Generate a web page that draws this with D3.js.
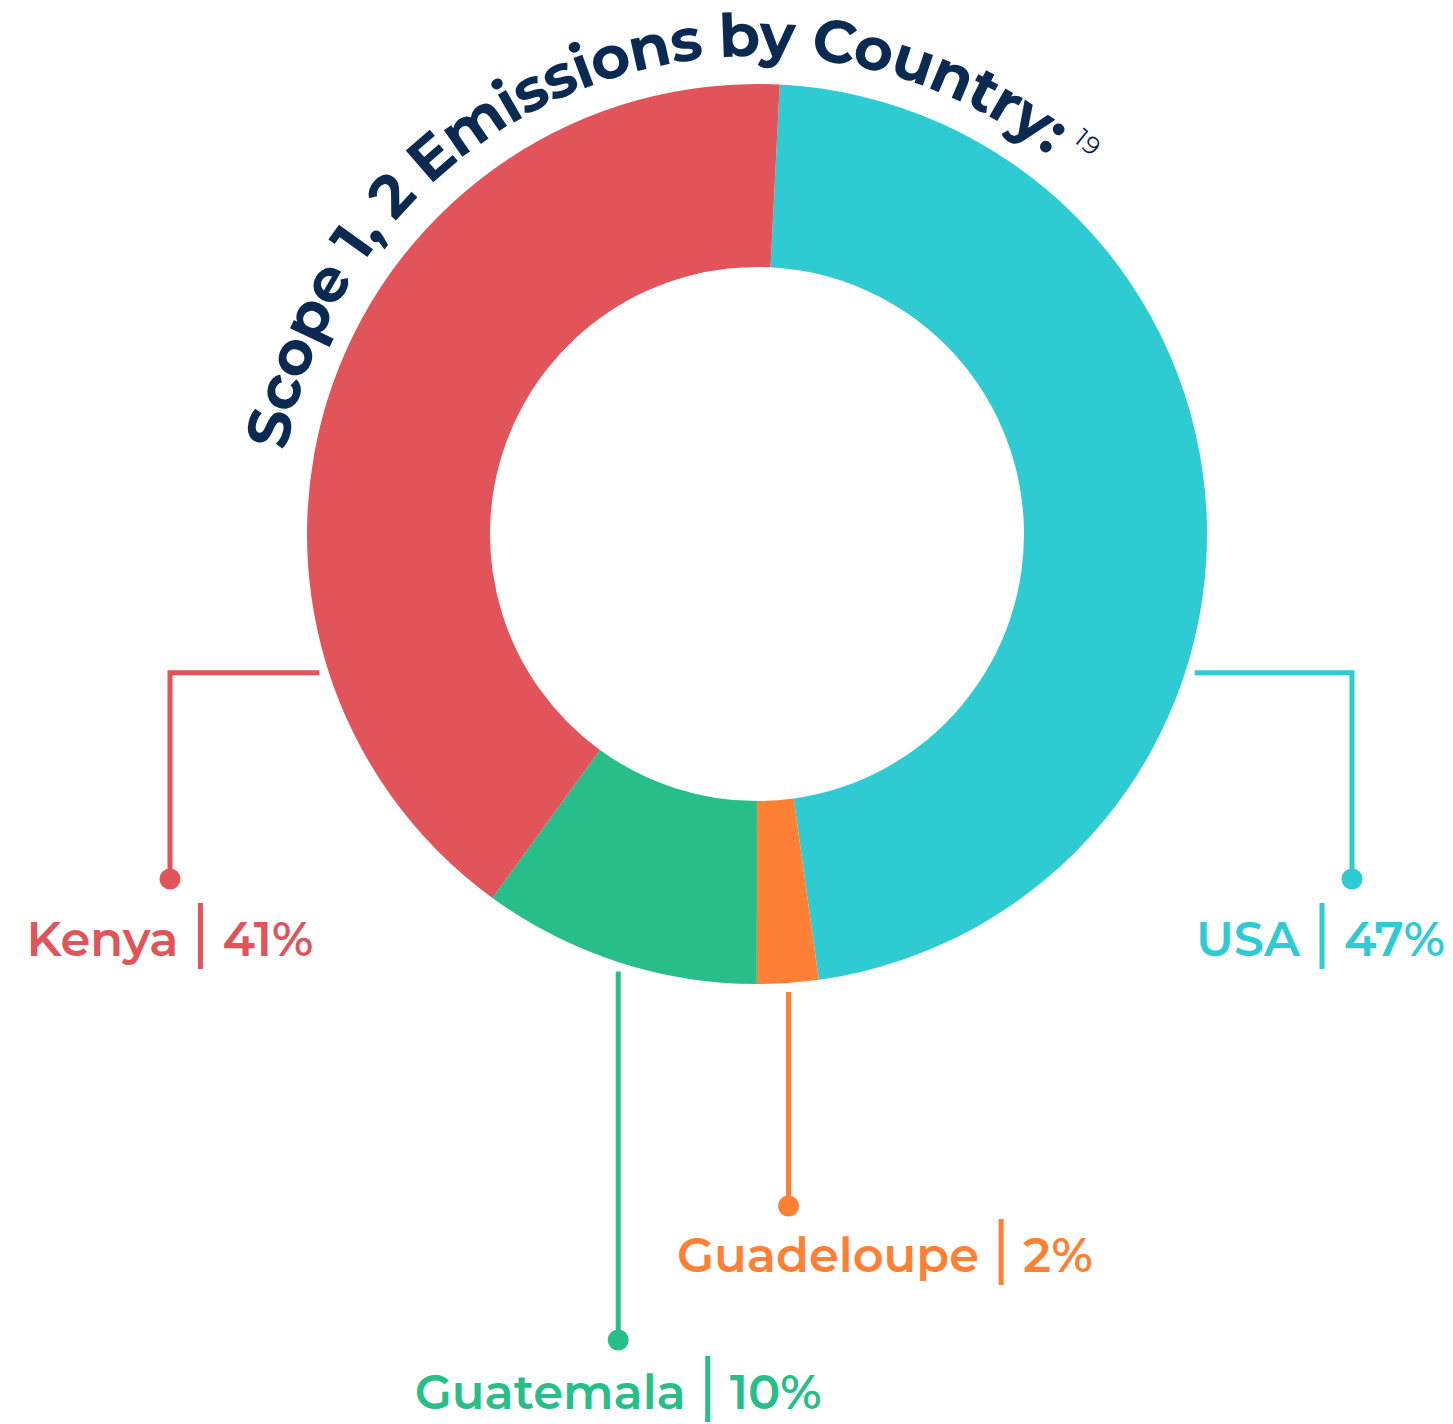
<!DOCTYPE html>
<html>
<head>
  <meta charset="utf-8">
  <title>Scope 1, 2 Emissions by Country</title>
  <script src="https://cdn.jsdelivr.net/npm/d3@7"></script>
  <style>
    body { margin: 0; background: #fff; }
    .title { font-family: "Montserrat", "Inter", sans-serif; font-weight: 700; fill: #0a2a52; }
    .label { font-family: "Montserrat", "Inter", sans-serif; font-weight: 600; font-size: 48px; }
  </style>
</head>
<body>
  <script>
    // data
    var countries = ["USA", "Guadeloupe", "Guatemala", "Kenya"];
    var shares = [47, 2.2, 10, 40.8];
    var shareLabels = ["47%", "2%", "10%", "41%"];
    var colors = ["#2ecbd3", "#fe8034", "#28be8a", "#e0545a"];
    var titleText = "Scope 1, 2 Emissions by Country:";
    var footnote = "19";

    var width = 1453, height = 1424;
    var cx = 757, cy = 534, rOuter = 450, rInner = 267;
    var rad = Math.PI / 180;
    var startDeg = 2.9;

    // leader line layout: anchor angle (deg from top, clockwise), dot position, label placement
    var leaders = {
      "USA":        {angle: 107.6, dx: 595,  dy: 345, labelY: 956,  align: "end",    labelX: 1445},
      "Guadeloupe": {angle: null,  dx: null, dy: 672, labelY: 1272, align: "start",  labelX: 677},
      "Guatemala":  {angle: 197.6, dx: null, dy: 806, labelY: 1409, align: "middle", labelX: null},
      "Kenya":      {angle: 252.4, dx: -587, dy: 345, labelY: 956,  align: "middle", labelX: null}
    };

    var data = countries.map(function(c, i) {
      return {country: c, value: shares[i], label: shareLabels[i], color: colors[i]};
    });

    var svg = d3.select("body").append("svg")
        .attr("width", width)
        .attr("height", height);

    var pie = d3.pie()
        .sort(null)
        .value(function(d) { return d.value; })
        .startAngle(startDeg * rad)
        .endAngle((startDeg + 360) * rad);

    var arc = d3.arc()
        .innerRadius(rInner)
        .outerRadius(rOuter);

    var slices = pie(data);

    var g = svg.append("g")
        .attr("transform", "translate(" + cx + "," + cy + ")");

    g.selectAll("path.slice")
        .data(slices)
        .enter().append("path")
          .attr("class", "slice")
          .attr("d", arc)
          .attr("fill", function(d) { return d.data.color; });

    // curved title along a circle above the donut
    var rTitle = 478;
    var a0 = -80 * rad, a1 = 100 * rad;
    var titlePath = "M" + (rTitle * Math.sin(a0)) + "," + (-rTitle * Math.cos(a0)) +
        " A" + rTitle + "," + rTitle + " 0 0 1 " + (rTitle * Math.sin(a1)) + "," + (-rTitle * Math.cos(a1));
    g.append("path")
        .attr("id", "titleArc")
        .attr("d", titlePath)
        .attr("fill", "none");

    var title = g.append("text")
        .attr("class", "title")
        .style("font-size", "60px");
    var tp = title.append("textPath")
        .attr("href", "#titleArc")
        .attr("startOffset", 0);
    var main = tp.append("tspan").text(titleText);
    // stretch the title so it spans -80deg .. 37.5deg of the arc
    var target = 117.5 * rad * rTitle;
    var len = main.node().getComputedTextLength();
    main.style("letter-spacing", ((target - len) / titleText.length) + "px");
    tp.append("tspan")
        .text(footnote)
        .attr("dx", 10)
        .attr("dy", -26)
        .style("font-size", "25px")
        .style("font-weight", 400);

    // leader lines + labels
    var rGap = rOuter + 9;
    slices.forEach(function(s) {
      var L = leaders[s.data.country];
      var ang = L.angle != null ? L.angle * rad : (s.startAngle + s.endAngle) / 2;
      var sx = rGap * Math.sin(ang), sy = -rGap * Math.cos(ang);
      var dotX, dotY = L.dy, pathD;
      if (L.dx != null) {
        dotX = L.dx;
        pathD = "M" + sx + "," + sy + " H" + dotX + " V" + dotY;
      } else {
        dotX = sx;
        pathD = "M" + sx + "," + sy + " V" + dotY;
      }
      g.append("path")
          .attr("d", pathD)
          .attr("fill", "none")
          .attr("stroke", s.data.color)
          .attr("stroke-width", 5)
          .attr("stroke-linejoin", "miter");
      g.append("circle")
          .attr("cx", dotX)
          .attr("cy", dotY)
          .attr("r", 10.5)
          .attr("fill", s.data.color);

      // label: name | value
      var lg = svg.append("g").attr("fill", s.data.color);
      var t1 = lg.append("text").attr("class", "label").text(s.data.country);
      var t2 = lg.append("text").attr("class", "label").text(s.data.label);
      var w1 = t1.node().getComputedTextLength();
      var w2 = t2.node().getComputedTextLength();
      var gap = 22;
      var total = w1 + gap * 2 + w2;
      var ax = L.labelX != null ? L.labelX : cx + dotX;
      var left = L.align == "middle" ? ax - total / 2 : (L.align == "end" ? ax - total : ax);
      var y = L.labelY;
      t1.attr("x", left).attr("y", y);
      t2.attr("x", left + w1 + gap * 2).attr("y", y);
      lg.append("line")
          .attr("x1", left + w1 + gap)
          .attr("x2", left + w1 + gap)
          .attr("y1", y - 53)
          .attr("y2", y + 13)
          .attr("stroke", s.data.color)
          .attr("stroke-width", 5);
    });
  </script>
</body>
</html>
